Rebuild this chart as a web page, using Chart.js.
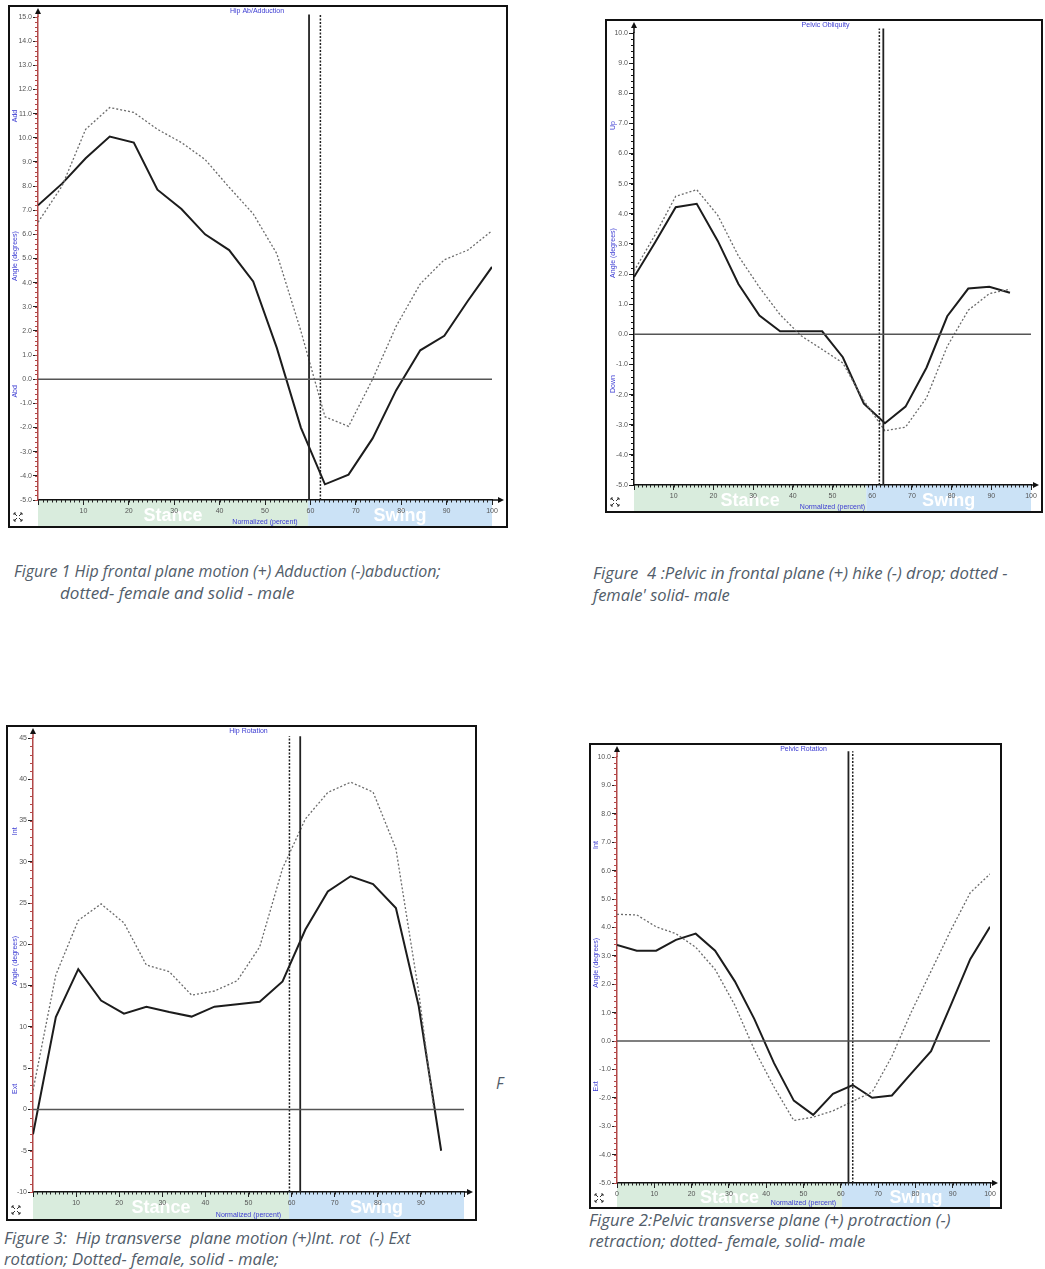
<!DOCTYPE html>
<html>
<head>
<meta charset="utf-8">
<script src="https://cdn.jsdelivr.net/npm/chart.js@4.4.0/dist/chart.umd.min.js"></script>
<style>
  body { margin: 0; background: #fff; width: 1045px; height: 1269px; position: relative; overflow: hidden; }
  canvas { position: absolute; }
  .cap { position: absolute; font-family: "Open Sans", sans-serif; font-style: italic; font-size: 15.5px;
         color: #525d6a; white-space: pre; line-height: 22px; transform-origin: left center; }
</style>
</head>
<body>
<canvas id="hipAb"></canvas>
<canvas id="pelOb"></canvas>
<canvas id="hipRot"></canvas>
<canvas id="pelRot"></canvas>

<div class="cap" data-w="427" style="left:14px;top:560px">Figure 1 Hip frontal plane motion (+) Adduction (-)abduction;</div>
<div class="cap" data-w="235" style="left:60px;top:582px">dotted- female and solid - male</div>
<div class="cap" data-w="414" style="left:593px;top:562px">Figure  4 :Pelvic in frontal plane (+) hike (-) drop; dotted -</div>
<div class="cap" data-w="137" style="left:593px;top:584px">female' solid- male</div>
<div class="cap" data-w="407" style="left:4px;top:1227px">Figure 3:  Hip transverse  plane motion (+)Int. rot  (-) Ext</div>
<div class="cap" data-w="274" style="left:4px;top:1248px">rotation; Dotted- female, solid - male;</div>
<div class="cap" data-w="361" style="left:589px;top:1209px">Figure 2:Pelvic transverse plane (+) protraction (-)</div>
<div class="cap" data-w="276" style="left:589px;top:1230px">retraction; dotted- female, solid- male</div>
<div class="cap" style="left:496px;top:1072px">F</div>

<script>
// gait cycle sample points (percent)
const pct = [0, 5.3, 10.5, 15.8, 21.1, 26.3, 31.6, 36.8, 42.1, 47.4, 52.6, 57.9, 63.2, 68.4, 73.7, 78.9, 84.2, 89.5, 94.7, 100];

// Figure 1 - hip ab/adduction
const hipAbMale   = [7.2, 8.1, 9.15, 10.05, 9.8, 7.85, 7.05, 6.0, 5.35, 4.05, 1.3, -2.0, -4.35, -3.95, -2.45, -0.45, 1.2, 1.8, 3.25, 4.65];
const hipAbFemale = [6.5, 8.0, 10.35, 11.25, 11.05, 10.35, 9.8, 9.1, 7.95, 6.85, 5.2, 2.0, -1.55, -1.95, 0.0, 2.2, 3.95, 4.95, 5.35, 6.15];
const hipAbToeOffMale = 59.7, hipAbToeOffFemale = 62.2;

// Figure 4 - pelvic obliquity (stops at 94.7)
const pelObMale   = [1.9, 3.05, 4.22, 4.33, 3.1, 1.67, 0.62, 0.1, 0.1, 0.1, -0.76, -2.3, -2.95, -2.4, -1.1, 0.6, 1.52, 1.58, 1.38];
const pelObFemale = [2.1, 3.3, 4.58, 4.8, 3.95, 2.6, 1.56, 0.65, -0.05, -0.5, -0.95, -2.2, -3.2, -3.08, -2.1, -0.4, 0.8, 1.35, 1.5];
const pelObToeOffMale = 62.8, pelObToeOffFemale = 61.8;

// Figure 3 - hip rotation
const hipRotMale    = [-3.0, 11.2, 17.0, 13.2, 11.6, 12.45, 11.8, 11.25, 12.45, 12.75, 13.05, 15.5, 21.8, 26.4, 28.25, 27.3, 24.4, 12.5, -5.0];
const hipRotFemaleX = [0, 5.3, 10.5, 15.8, 21.1, 26.3, 31.6, 36.8, 42.1, 47.4, 52.6, 57.9, 63.2, 68.4, 73.7, 78.9, 84.2, 89.5, 93.0];
const hipRotFemale  = [2.3, 16.3, 22.9, 24.9, 22.6, 17.5, 16.7, 13.85, 14.35, 15.6, 19.7, 29.2, 35.2, 38.4, 39.65, 38.45, 31.6, 14.2, 0.0];
const hipRotToeOffMale = 62.0, hipRotToeOffFemale = 59.5;

// Figure 2 - pelvic rotation
const pelRotMale   = [3.38, 3.18, 3.18, 3.56, 3.78, 3.18, 2.1, 0.78, -0.78, -2.1, -2.6, -1.86, -1.55, -2.0, -1.92, -1.14, -0.36, 1.26, 2.88, 4.02];
const pelRotFemale = [4.46, 4.44, 4.02, 3.78, 3.3, 2.52, 1.26, -0.3, -1.62, -2.8, -2.68, -2.46, -2.12, -1.8, -0.54, 1.02, 2.46, 3.9, 5.22, 5.88];
const pelRotToeOffMale = 62.05, pelRotToeOffFemale = 63.2;

Chart.defaults.font.family = '"Liberation Sans", Arial, sans-serif';

function pts(xs, ys) {
  return ys.map((v, i) => ({ x: xs[i], y: v }));
}

const blue = '#3b3bd2';

const deco = {
  id: 'deco',
  beforeDraw(chart, args, o) {
    const ctx = chart.ctx, a = chart.chartArea, x = chart.scales.x;
    const H = chart.height;
    ctx.save();
    ctx.fillStyle = '#fff';
    ctx.fillRect(0, 0, chart.width, H);
    // stance / swing band under the x axis
    const x0 = x.getPixelForValue(0), x1 = x.getPixelForValue(100), xt = x.getPixelForValue(o.band);
    const top = a.bottom, bot = H - 2;
    ctx.fillStyle = '#d9ecdd';
    ctx.fillRect(x0, top, xt - x0, bot - top);
    ctx.fillStyle = '#cbe2f6';
    ctx.fillRect(xt, top, x1 - xt, bot - top);
    ctx.fillStyle = '#fff';
    ctx.font = 'bold 18px "Liberation Sans"';
    ctx.textAlign = 'center';
    ctx.textBaseline = 'middle';
    ctx.fillText('Stance', (x0 + xt) / 2, (top + bot) / 2 + 3);
    ctx.fillText('Swing', (xt + x1) / 2, (top + bot) / 2 + 3);
    ctx.fillStyle = blue;
    ctx.font = '7px "Liberation Sans"';
    ctx.fillText('Normalized (percent)', (x0 + x1) / 2, bot - 4);
    ctx.restore();
  },
  afterDraw(chart, args, o) {
    const ctx = chart.ctx, a = chart.chartArea, x = chart.scales.x, y = chart.scales.y;
    const W = chart.width, H = chart.height;
    ctx.save();
    // frame
    ctx.strokeStyle = '#111';
    ctx.lineWidth = 2;
    ctx.strokeRect(1, 1, W - 2, H - 2);

    // minor ticks
    ctx.lineWidth = 1;
    ctx.strokeStyle = '#222';
    ctx.beginPath();
    for (let v = 0; v <= 100; v++) {
      const px = Math.round(x.getPixelForValue(v)) + 0.5;
      ctx.moveTo(px, a.bottom);
      ctx.lineTo(px, a.bottom + 2.5);
    }
    ctx.stroke();
    ctx.strokeStyle = o.axisColor;
    ctx.beginPath();
    const n = Math.round((y.max - y.min) / o.minorY);
    for (let i = 0; i <= n; i++) {
      const py = Math.round(y.getPixelForValue(y.min + i * o.minorY)) + 0.5;
      ctx.moveTo(a.left, py);
      ctx.lineTo(a.left - 3, py);
    }
    ctx.stroke();

    // axis extensions with arrow heads
    const ext = Math.min(12, W - a.right - 4);
    ctx.strokeStyle = '#111';
    ctx.lineWidth = 1.5;
    ctx.beginPath();
    ctx.moveTo(a.right, a.bottom);
    ctx.lineTo(a.right + ext - 4, a.bottom);
    ctx.stroke();
    ctx.fillStyle = '#111';
    ctx.beginPath();
    ctx.moveTo(a.right + ext, a.bottom);
    ctx.lineTo(a.right + ext - 6, a.bottom - 3);
    ctx.lineTo(a.right + ext - 6, a.bottom + 3);
    ctx.closePath();
    ctx.fill();
    ctx.strokeStyle = o.axisColor;
    ctx.beginPath();
    ctx.moveTo(a.left, a.top);
    ctx.lineTo(a.left, 8);
    ctx.stroke();
    ctx.fillStyle = '#111';
    ctx.beginPath();
    ctx.moveTo(a.left, 3);
    ctx.lineTo(a.left - 3, 9);
    ctx.lineTo(a.left + 3, 9);
    ctx.closePath();
    ctx.fill();

    // title
    ctx.fillStyle = blue;
    ctx.font = '7px "Liberation Sans"';
    ctx.textAlign = 'center';
    ctx.textBaseline = 'middle';
    ctx.fillText(o.title, (a.left + a.right) / 2 + o.titleDx, 6);

    // side labels along the y axis
    o.side.forEach(s => {
      ctx.save();
      ctx.translate(a.left - o.sideOff, y.getPixelForValue(s[1]));
      ctx.rotate(-Math.PI / 2);
      ctx.fillText(s[0], 0, 0);
      ctx.restore();
    });

    // small zoom icon bottom-left
    const ix = 6, iy = H - 15;
    ctx.strokeStyle = '#333';
    ctx.lineWidth = 1;
    ctx.beginPath();
    [[0, 0, 1, 1], [8, 0, -1, 1], [0, 8, 1, -1], [8, 8, -1, -1]].forEach(c => {
      const cx = ix + c[0], cy = iy + c[1];
      ctx.moveTo(cx, cy); ctx.lineTo(cx + 3 * c[2], cy + 3 * c[3]);
      ctx.moveTo(cx, cy); ctx.lineTo(cx + 2 * c[2], cy);
      ctx.moveTo(cx, cy); ctx.lineTo(cx, cy + 2 * c[3]);
    });
    ctx.stroke();
    ctx.restore();
  }
};

function gaitChart(id, box, plot, s) {
  const cv = document.getElementById(id);
  const W = box[2] - box[0], H = box[3] - box[1];
  cv.width = W;
  cv.height = H;
  cv.style.left = box[0] + 'px';
  cv.style.top = box[1] + 'px';
  const padL = plot[0] - box[0], padT = plot[1] - box[1];
  const padR = box[2] - plot[2], axH = box[3] - plot[3];

  const datasets = [
    { data: [{ x: 0, y: 0 }, { x: 100, y: 0 }], borderColor: '#555', borderWidth: 1.5 },
    { data: [{ x: s.evFemale, y: s.min }, { x: s.evFemale, y: s.evTop }], borderColor: '#222', borderWidth: 1.5, borderDash: [2, 1.5], clip: 8 },
    { data: [{ x: s.evMale, y: s.min }, { x: s.evMale, y: s.evTop }], borderColor: '#222', borderWidth: 1.8, clip: 8 },
    { data: s.female, borderColor: '#6b6b6b', borderWidth: 1.3, borderDash: [2, 2] },
    { data: s.male, borderColor: '#1c1c1c', borderWidth: 2 }
  ];
  datasets.forEach(d => { d.pointRadius = 0; d.tension = 0; d.fill = false; });

  return new Chart(cv, {
    type: 'line',
    data: { datasets: datasets },
    options: {
      responsive: false,
      animation: false,
      layout: { padding: { top: padT, right: padR, left: 0, bottom: 0 } },
      plugins: {
        legend: { display: false },
        tooltip: { enabled: false },
        deco: {
          band: s.band, title: s.title, titleDx: s.titleDx || 0, side: s.side, sideOff: s.sideOff || 21,
          minorY: s.minorY, axisColor: s.axisColor
        }
      },
      scales: {
        x: {
          type: 'linear', min: 0, max: 100,
          afterFit: sc => { sc.height = axH; },
          ticks: {
            stepSize: 10, autoSkip: false, maxRotation: 0, padding: 2,
            color: '#555', font: { size: 7 },
            callback: v => (s.hideX.indexOf(v) >= 0 ? '' : v)
          },
          grid: { drawOnChartArea: false, tickLength: 5, color: '#222' },
          border: { color: '#111', width: 1.5 }
        },
        y: {
          min: s.min, max: s.max,
          afterFit: sc => { sc.width = padL; },
          ticks: {
            stepSize: s.step, autoSkip: false, padding: 1,
            color: '#555', font: { size: 7 },
            callback: v => v.toFixed(s.dec)
          },
          grid: { drawOnChartArea: false, tickLength: 5, color: '#222' },
          border: { color: s.axisColor, width: 1.5 }
        }
      }
    },
    plugins: [deco]
  });
}

gaitChart('hipAb', [8, 5, 508, 528], [38, 17, 492, 500], {
  title: 'Hip Ab/Adduction', titleDx: -8, min: -5, max: 15, step: 1, dec: 1, minorY: 0.2,
  male: pts(pct, hipAbMale), female: pts(pct, hipAbFemale),
  evMale: hipAbToeOffMale, evFemale: hipAbToeOffFemale, evTop: 15.1, band: 59.5,
  side: [['Add', 10.9], ['Angle (degrees)', 5.1], ['Abd', -0.5]], sideOff: 23,
  axisColor: '#b24848', hideX: [0]
});

gaitChart('pelOb', [605, 19, 1043, 513], [634, 33, 1031, 485], {
  title: 'Pelvic Obliquity', titleDx: -7, min: -5, max: 10, step: 1, dec: 1, minorY: 0.2,
  male: pts(pct, pelObMale), female: pts(pct, pelObFemale),
  evMale: pelObToeOffMale, evFemale: pelObToeOffFemale, evTop: 10.15, band: 58.5,
  side: [['Up', 6.93], ['Angle (degrees)', 2.7], ['Down', -1.65]],
  axisColor: '#111', hideX: [0]
});

gaitChart('hipRot', [6, 725, 477, 1221], [33, 738, 464, 1192], {
  title: 'Hip Rotation', min: -10, max: 45, step: 5, dec: 0, minorY: 1,
  male: pts(pct, hipRotMale), female: pts(hipRotFemaleX, hipRotFemale),
  evMale: hipRotToeOffMale, evFemale: hipRotToeOffFemale, evTop: 45.2, band: 59.4,
  side: [['Int', 33.7], ['Angle (degrees)', 18], ['Ext', 2.5]], sideOff: 18,
  axisColor: '#b24848', hideX: [0, 100]
});

gaitChart('pelRot', [589, 743, 1002, 1209], [617, 757, 990, 1183], {
  title: 'Pelvic Rotation', min: -5, max: 10, step: 1, dec: 1, minorY: 0.2,
  male: pts(pct, pelRotMale), female: pts(pct, pelRotFemale),
  evMale: pelRotToeOffMale, evFemale: pelRotToeOffFemale, evTop: 10.2, band: 60.3,
  side: [['Int', 6.9], ['Angle (degrees)', 2.75], ['Ext', -1.6]],
  axisColor: '#b24848', hideX: []
});

// stretch caption lines to the widths they have in the figure
document.querySelectorAll('.cap').forEach(el => {
  const w = parseFloat(el.dataset.w);
  if (w) el.style.transform = 'scaleX(' + (w / el.offsetWidth).toFixed(3) + ')';
});
</script>
</body>
</html>
